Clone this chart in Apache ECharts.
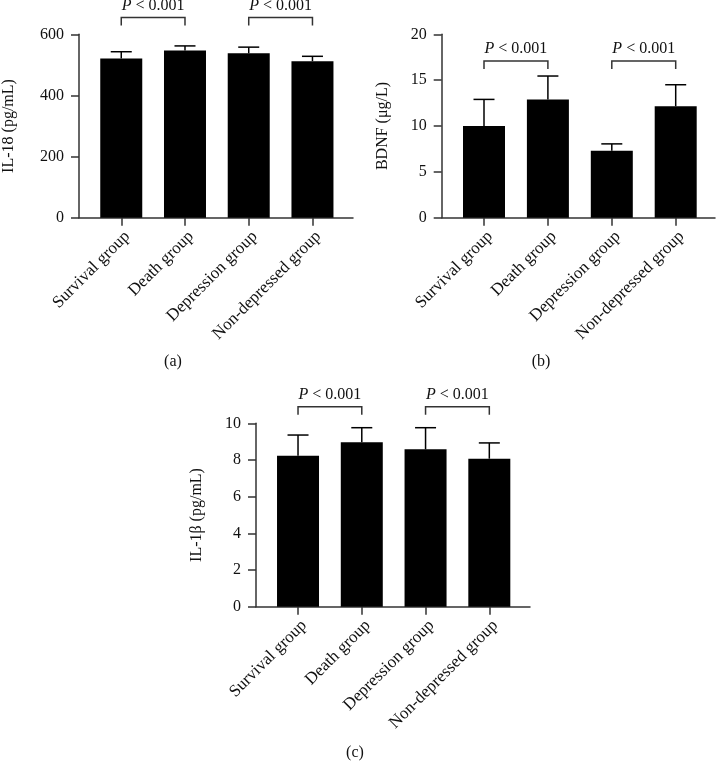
<!DOCTYPE html>
<html>
<head>
<meta charset="utf-8">
<script src="https://cdn.jsdelivr.net/npm/echarts@6/dist/echarts.min.js"></script>
<style>html,body{margin:0;padding:0;background:#fff}#main{width:717px;height:762px}</style>
</head>
<body>
<div id="main"></div>
<script>
// ---- data ----
const categories = ['Survival group', 'Death group', 'Depression group', 'Non-depressed group'];

const il18Mean = [521, 547, 538, 512];
const il18Upper = [543, 562, 558, 528];

const bdnfMean = [10.0, 12.9, 7.3, 12.15];
const bdnfUpper = [12.9, 15.45, 8.05, 14.5];

const il1bMean = [8.23, 8.96, 8.58, 8.07];
const il1bUpper = [9.36, 9.76, 9.76, 8.93];

const comparisons = [[0, 1], [2, 3]];
const pLabel = 'P < 0.001';
const bracketLevelA = 655;
const bracketLevelB = 17.1;
const bracketLevelC = 10.9;

const yTitles = ['IL-18 (pg/mL)', 'BDNF (μg/L)', 'IL-1β (pg/mL)'];
const panelLabels = ['(a)', '(b)', '(c)'];

// ---- chart ----
const FONT = 'Liberation Serif';
const AXIS_COLOR = '#333';
const TEXT_COLOR = '#111';

const chart = echarts.init(document.getElementById('main'), null, {renderer: 'canvas'});

const grids = [
  {left: 78.7, top: 34.3, width: 274.3, height: 183.4},
  {left: 441.7, top: 34.3, width: 273.3, height: 183.4},
  {left: 256, top: 423.3, width: 274, height: 183.4}
];
const xRanges = [[-0.663, 3.636], [-0.662, 3.615], [-0.659, 3.638]];
const yRanges = [[0, 600, 200], [0, 20, 5], [0, 10, 2]];
const nameGaps = [62, 51, 51];

function xAxisFor(i) {
  return {
    type: 'value', gridIndex: i, min: xRanges[i][0], max: xRanges[i][1],
    splitLine: {show: false},
    axisLine: {show: true, onZero: false, lineStyle: {color: AXIS_COLOR, width: 1.5}},
    axisTick: {show: true, length: 8, lineStyle: {color: AXIS_COLOR, width: 1.5}, customValues: [0, 1, 2, 3]},
    axisLabel: {
      show: true, rotate: 45, margin: 10, verticalAlign: 'top', customValues: [0, 1, 2, 3],
      formatter: v => categories[Math.round(v)] || '',
      fontFamily: FONT, fontSize: 17, color: TEXT_COLOR
    }
  };
}
function yAxisFor(i) {
  return {
    type: 'value', gridIndex: i, min: yRanges[i][0], max: yRanges[i][1], interval: yRanges[i][2],
    name: yTitles[i], nameLocation: 'middle', nameGap: nameGaps[i],
    nameTextStyle: {fontFamily: FONT, fontSize: 16, color: TEXT_COLOR},
    splitLine: {show: false},
    axisLine: {show: true, onZero: false, lineStyle: {color: AXIS_COLOR, width: 1.5}},
    axisTick: {show: true, length: 8, lineStyle: {color: AXIS_COLOR, width: 1.5}},
    axisLabel: {margin: 15, fontFamily: FONT, fontSize: 16, color: TEXT_COLOR}
  };
}

function barSeries(i, means) {
  return {
    type: 'bar', xAxisIndex: i, yAxisIndex: i, barWidth: 42,
    itemStyle: {color: '#000'},
    data: means.map((v, k) => [k, v]),
    z: 2
  };
}
function errSeries(i, means, uppers) {
  return {
    type: 'custom', xAxisIndex: i, yAxisIndex: i, clip: false, z: 3,
    data: means.map((v, k) => [k, v, uppers[k]]),
    renderItem: (params, api) => {
      const p0 = api.coord([api.value(0), api.value(1)]);
      const p1 = api.coord([api.value(0), api.value(2)]);
      const style = {stroke: '#000', lineWidth: 1.5};
      return {type: 'group', children: [
        {type: 'line', shape: {x1: p0[0], y1: p0[1], x2: p1[0], y2: p1[1]}, style},
        {type: 'line', shape: {x1: p1[0] - 10.5, y1: p1[1], x2: p1[0] + 10.5, y2: p1[1]}, style}
      ]};
    }
  };
}
function bracketSeries(i, level) {
  return {
    type: 'custom', xAxisIndex: i, yAxisIndex: i, clip: false, z: 4,
    data: comparisons.map(c => [c[0], c[1], level]),
    renderItem: (params, api) => {
      const a = api.coord([api.value(0), api.value(2)]);
      const b = api.coord([api.value(1), api.value(2)]);
      return {type: 'group', children: [
        {type: 'polyline', shape: {points: [[a[0], a[1] + 8], [a[0], a[1]], [b[0], b[1]], [b[0], b[1] + 8]]},
         style: {stroke: '#333', lineWidth: 1.5, fill: null}},
        {type: 'text', x: (a[0] + b[0]) / 2, y: a[1] - 12,
         style: {text: '{i|P}' + pLabel.slice(1), align: 'center', verticalAlign: 'middle',
                 fontFamily: FONT, fontSize: 16, fill: TEXT_COLOR,
                 rich: {i: {fontStyle: 'italic', fontFamily: FONT, fontSize: 16, color: TEXT_COLOR}}}}
      ]};
    }
  };
}

const panelPos = [[173, 362], [541, 362], [355, 753]];

chart.setOption({
  animation: false,
  backgroundColor: '#fff',
  grid: grids,
  xAxis: [0, 1, 2].map(xAxisFor),
  yAxis: [0, 1, 2].map(yAxisFor),
  graphic: panelLabels.map((t, i) => ({
    type: 'text', x: panelPos[i][0], y: panelPos[i][1],
    style: {text: t, align: 'center', verticalAlign: 'middle', fontFamily: FONT, fontSize: 16, fill: TEXT_COLOR}
  })),
  series: [
    barSeries(0, il18Mean), errSeries(0, il18Mean, il18Upper), bracketSeries(0, bracketLevelA),
    barSeries(1, bdnfMean), errSeries(1, bdnfMean, bdnfUpper), bracketSeries(1, bracketLevelB),
    barSeries(2, il1bMean), errSeries(2, il1bMean, il1bUpper), bracketSeries(2, bracketLevelC)
  ]
});
</script>
</body>
</html>
